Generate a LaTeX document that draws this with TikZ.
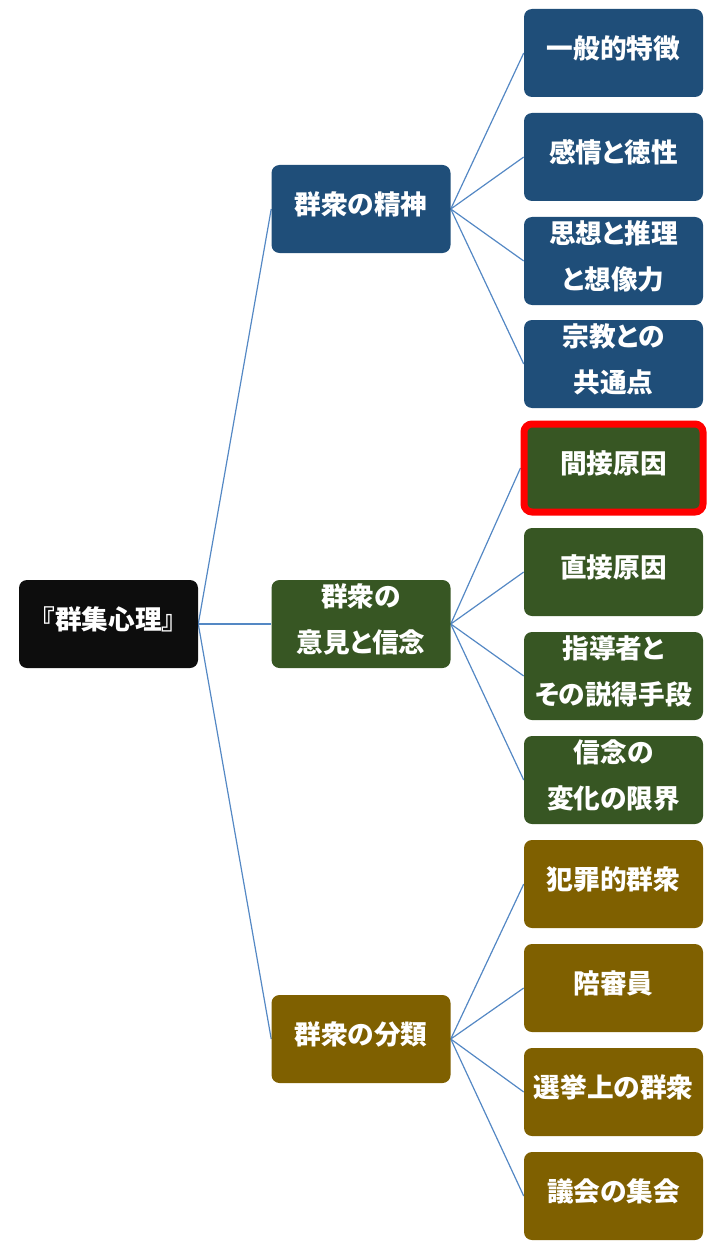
\documentclass[tikz,border=0pt]{standalone}
\usepackage{fontspec}
\newfontfamily\jpfont[RawFeature=+palt]{Noto Sans CJK JP}
\usetikzlibrary{backgrounds}
\definecolor{rootblack}{RGB}{13,13,13}
\definecolor{deepblue}{RGB}{31,78,121}
\definecolor{mossgreen}{RGB}{55,86,35}
\definecolor{darkgold}{RGB}{127,96,0}
\definecolor{linkblue}{RGB}{84,136,196}
\tikzset{
  box/.style={rectangle, rounded corners=6pt, minimum width=134.25pt, minimum height=66pt, text width=134pt, text depth=9pt, inner sep=0pt, align=center, text=white, font=\jpfont\bfseries\fontsize{20}{35}\selectfont},
  twoline/.style={text depth=44pt},
  link/.style={draw=linkblue, line width=0.9pt}
}

\begin{document}
\begin{tikzpicture}[x=0.75pt, y=-0.75pt,
    rootbox/.style={box, fill=rootblack},
    bluebox/.style={box, fill=deepblue},
    greenbox/.style={box, fill=mossgreen},
    goldbox/.style={box, fill=darkgold}
]
    \useasboundingbox (0,0) rectangle (721,1248);

    % Root
    \node[rootbox] (root) at (108.5,624) {『群集心理』};

    % Level 1
    \node[bluebox]  (mind)  at (361,209)  {群衆の精神};
    \node[greenbox, twoline] (opin)  at (361,624)  {群衆の\\意見と信念};
    \node[goldbox]  (kind)  at (361,1039) {群衆の分類};

    % Leaves
    \node[bluebox]  (b1) at (613.5,53)   {一般的特徴};
    \node[bluebox]  (b2) at (613.5,157)  {感情と徳性};
    \node[bluebox, twoline]  (b3) at (613.5,261)  {思想と推理\\と想像力};
    \node[bluebox, twoline]  (b4) at (613.5,364)  {宗教との\\共通点};
    \node[greenbox, draw=red, line width=5.25pt] (g1) at (613.5,468) {間接原因};
    \node[greenbox] (g2) at (613.5,572)  {直接原因};
    \node[greenbox, twoline] (g3) at (613.5,676)  {指導者と\\その説得手段};
    \node[greenbox, twoline] (g4) at (613.5,780)  {信念の\\変化の限界};
    \node[goldbox]  (k1) at (613.5,884)  {犯罪的群衆};
    \node[goldbox]  (k2) at (613.5,988)  {陪審員};
    \node[goldbox]  (k3) at (613.5,1092) {選挙上の群衆};
    \node[goldbox]  (k4) at (613.5,1196) {議会の集会};

    % Links
    \begin{scope}[on background layer]
        \foreach \c in {mind, opin, kind}
            \draw[link] (root.east) -- (\c.west);
        \foreach \c in {b1, b2, b3, b4}
            \draw[link] (mind.east) -- (\c.west);
        \foreach \c in {g1, g2, g3, g4}
            \draw[link] (opin.east) -- (\c.west);
        \foreach \c in {k1, k2, k3, k4}
            \draw[link] (kind.east) -- (\c.west);
    \end{scope}
\end{tikzpicture}
\end{document}
